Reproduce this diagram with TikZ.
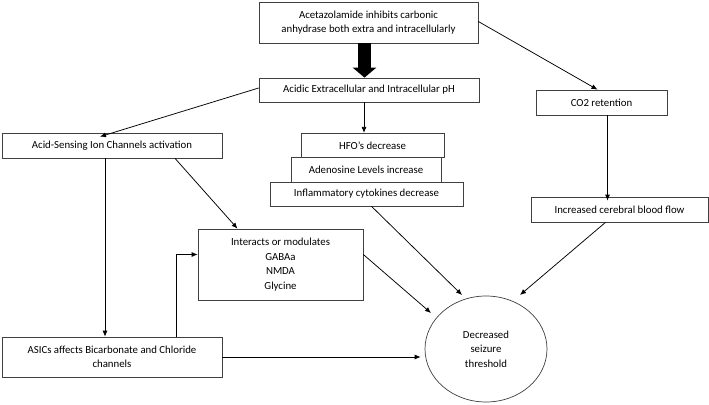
\documentclass[tikz,border=0pt]{standalone}
\usepackage{fontspec}
\setmainfont{Carlito}
\usetikzlibrary{arrows.meta,shapes.geometric}

\begin{document}
\begin{tikzpicture}[
			x=1pt, y=-1pt,
			box/.style={draw=black!75, line width=0.7pt, fill=white, inner sep=0pt, align=center, font=\fontsize{10.8}{14.5}\selectfont},
			link/.style={draw=black, line width=0.75pt, -{Latex[length=6pt,width=5pt]}},
			bigarrow/.style={draw=black, line width=13pt, -{Triangle[length=10pt,width=23pt]}}
		]
			\useasboundingbox (0,0) rectangle (709,404);
			% boxes
			\node[box, minimum width=219pt, minimum height=41pt] (acz) at (368.5,22.5)
				{Acetazolamide inhibits carbonic\\anhydrase both extra and intracellularly};
			\node[box, minimum width=220pt, minimum height=24pt] (acid) at (369,90)
				{Acidic Extracellular and Intracellular pH};
			\node[box, minimum width=220pt, minimum height=25pt] (asic) at (112,145.5)
				{Acid-Sensing Ion Channels activation};
			\node[box, minimum width=143pt, minimum height=24.5pt] (hfo) at (372.5,145.5)
				{HFO's decrease};
			\node[box, minimum width=150pt, minimum height=25pt] (aden) at (366,169.5)
				{Adenosine Levels increase};
			\node[box, minimum width=193pt, minimum height=24pt] (infl) at (366.5,194)
				{Inflammatory cytokines decrease};
			\node[box, minimum width=131pt, minimum height=25pt] (co2) at (601.5,102.5)
				{CO2 retention};
			\node[box, minimum width=177pt, minimum height=25pt] (cbf) at (619.5,209.5)
				{Increased cerebral blood flow};
			\node[box, minimum width=165pt, minimum height=71pt] (mod) at (280.5,264.5)
				{Interacts or modulates\\GABAa\\NMDA\\Glycine};
			\node[box, minimum width=220pt, minimum height=40pt] (bicarb) at (112,357)
				{ASICs affects Bicarbonate and Chloride\\channels};
			\node[box, ellipse, minimum width=122pt, minimum height=106pt] (seiz) at (486,349)
				{Decreased\\seizure\\threshold};
			% arrows
			\draw[bigarrow] ([xshift=-4pt]acz.south) -- ([xshift=-4.5pt]acid.north);
			\draw[link] ([yshift=2pt]acid.west) -- ([xshift=-12pt,yshift=-4pt]asic.north);
			\draw[link] ([xshift=-5pt]acid.south) -- ([xshift=-5pt]acid.south |- hfo.north);
			\draw[link] ([yshift=1pt]acz.east) -- ([xshift=-4pt]co2.north);
			\draw[link] ([xshift=6pt]co2.south) -- ([xshift=6pt,yshift=-4pt]co2.south |- cbf.north);
			\draw[link] ([xshift=-14pt]cbf.south) -- (520,295);
			\draw[link] ([xshift=5pt]infl.south) -- (462,295);
			\draw[link] ([xshift=63pt]asic.south) -- ([xshift=-43pt]mod.north);
			\draw[link] ([yshift=10pt]mod.east) -- (431,313);
			\draw[link] ([xshift=-7pt]asic.south) -- ([xshift=-7pt]bicarb.north);
			\draw[link] ([xshift=64pt]bicarb.north) |- ([yshift=10pt]mod.west);
			\draw[link] (bicarb.east) -- ([xshift=-4pt]bicarb.east -| seiz.west);
		\end{tikzpicture}
\end{document}
